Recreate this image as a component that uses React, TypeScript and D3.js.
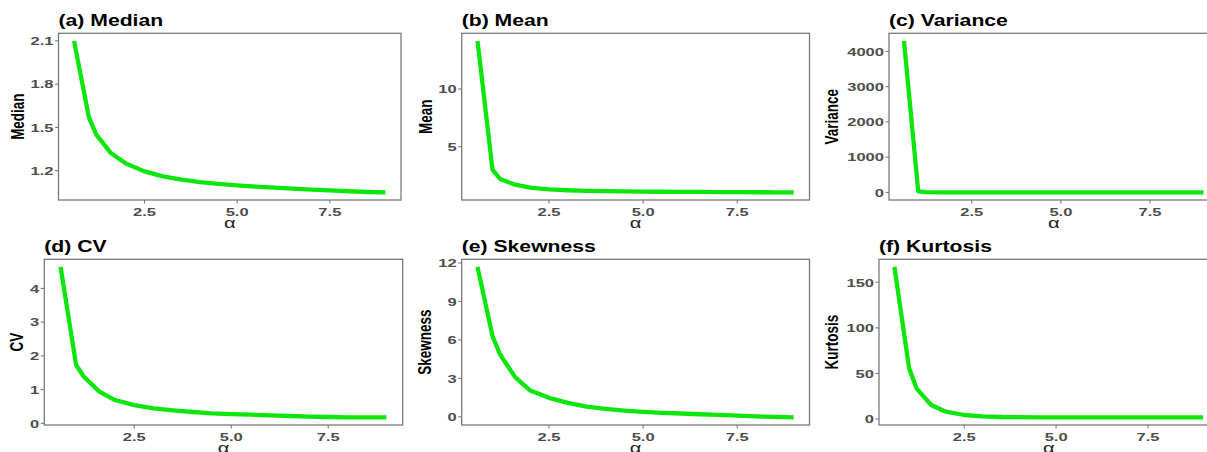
import React from "react";
import * as d3 from "d3";

// ---------- data ----------
const alpha = [0.6, 1.0, 1.2, 1.6, 2.0, 2.5, 3.0, 3.5, 4.0, 4.5, 5.0, 5.5, 6.0, 6.5, 7.0, 7.5, 8.0, 8.5, 9.0];
const medianVals = [2.10, 1.57, 1.45, 1.32, 1.25, 1.195, 1.16, 1.138, 1.12, 1.108, 1.098, 1.089, 1.082, 1.075, 1.068, 1.063, 1.057, 1.052, 1.049];
const meanVals = [14.17, 2.98, 2.2, 1.7, 1.45, 1.3, 1.22, 1.17, 1.14, 1.12, 1.1, 1.09, 1.08, 1.07, 1.06, 1.05, 1.045, 1.04, 1.03];
const varianceVals = [4300, 29, 8.8, 2.3, 0.97, 0.46, 0.27, 0.19, 0.14, 0.11, 0.095, 0.083, 0.072, 0.063, 0.054, 0.047, 0.041, 0.036, 0.031];
const cvVals = [4.64, 1.73, 1.38, 0.94, 0.69, 0.54, 0.44, 0.385, 0.335, 0.296, 0.275, 0.255, 0.236, 0.216, 0.196, 0.187, 0.178, 0.175, 0.173];
const skewVals = [11.7, 6.28, 4.86, 3.1, 2.05, 1.48, 1.09, 0.8, 0.62, 0.49, 0.39, 0.31, 0.26, 0.2, 0.15, 0.09, 0.03, 0.0, -0.05];
const kurtVals = [167, 55.6, 33.7, 15.4, 8, 4.4, 2.9, 2.2, 2.0, 1.9, 1.85, 1.8, 1.78, 1.76, 1.74, 1.72, 1.71, 1.7, 1.7];

const xTicks = [2.5, 5.0, 7.5];
const medianTicks = [1.2, 1.5, 1.8, 2.1];
const meanTicks = [5, 10];
const varianceTicks = [0, 1000, 2000, 3000, 4000];
const cvTicks = [0, 1, 2, 3, 4];
const skewTicks = [0, 3, 6, 9, 12];
const kurtTicks = [0, 50, 100, 150];

const titles = ["(a) Median", "(b) Mean", "(c) Variance", "(d) CV", "(e) Skewness", "(f) Kurtosis"];
const yLabels = ["Median", "Mean", "Variance", "CV", "Skewness", "Kurtosis"];
const xLabel = "\u03b1";

// ---------- layout ----------
const W = 1207;
const H = 452;
const FONT = "'Liberation Sans', Arial, Helvetica, sans-serif";
const LINE = "#0de60d";
const BORDER = "#7a7a7a";
const TICKTXT = "#4d4d4d";

const rows = [
  { top: 33.3, bottom: 200 },
  { top: 259.3, bottom: 425 },
];
const cols = [
  [{ left: 58.5, right: 401, ylabX: 24 }, { left: 461.7, right: 809.5, ylabX: 431.5 }, { left: 889, right: 1218.5, ylabX: 838 }],
  [{ left: 44.3, right: 402.7, ylabX: 23.3 }, { left: 461.7, right: 809.5, ylabX: 430.5 }, { left: 879, right: 1218.5, ylabX: 838 }],
];

const series = [medianVals, meanVals, varianceVals, cvVals, skewVals, kurtVals];
const yTickSets = [medianTicks, meanTicks, varianceTicks, cvTicks, skewTicks, kurtTicks];
const yFormats = [d3.format(".1f"), d3.format("d"), d3.format("d"), d3.format("d"), d3.format("d"), d3.format("d")];

function expand(ext: [number, number]): [number, number] {
  const r = ext[1] - ext[0];
  return [ext[0] - 0.05 * r, ext[1] + 0.05 * r];
}

function SText(props: {
  x: number; y: number; sx: number; anchor?: string; size: number; weight?: string | number;
  fill: string; rotate?: boolean; children: React.ReactNode;
}) {
  const { x, y, sx, anchor = "start", size, weight = "normal", fill, rotate, children } = props;
  return (
    <g transform={`translate(${x},${y}) scale(${sx},1)${rotate ? " rotate(-90)" : ""}`}>
      <text x={0} y={0} textAnchor={anchor} fontSize={size} fontWeight={weight} fill={fill} fontFamily={FONT}>
        {children}
      </text>
    </g>
  );
}

function Panel({ idx }: { idx: number }) {
  const r = Math.floor(idx / 3);
  const c = idx % 3;
  const { top, bottom } = rows[r];
  const { left, right, ylabX } = cols[r][c];
  const vals = series[idx];
  const x = d3.scaleLinear().domain(expand(d3.extent(alpha) as [number, number])).range([left, right]);
  const y = d3.scaleLinear().domain(expand(d3.extent(vals) as [number, number])).range([bottom, top]);
  const pts = alpha.map((a, i) => [a, vals[i]] as [number, number]);
  const line = d3.line<[number, number]>().x((d) => x(d[0])).y((d) => y(d[1]));
  const fmtX = d3.format(".1f");
  const clipId = `clip${idx}`;
  return (
    <g>
      <defs>
        <clipPath id={clipId}>
          <rect x={left} y={top} width={right - left} height={bottom - top} />
        </clipPath>
      </defs>
      <path d={line(pts) || ""} fill="none" stroke={LINE} strokeWidth={4.3} strokeLinejoin="round" clipPath={`url(#${clipId})`} />
      <rect x={left} y={top} width={right - left} height={bottom - top} fill="none" stroke={BORDER} strokeWidth={1.3} />
      {yTickSets[idx].map((t) => (
        <g key={"y" + t}>
          <line x1={left - 3.5} x2={left} y1={y(t)} y2={y(t)} stroke={BORDER} strokeWidth={1.1} />
          <SText x={left - 5} y={y(t) + 4.2} sx={1.4} anchor="end" size={11.8} weight="bold" fill={TICKTXT}>
            {yFormats[idx](t)}
          </SText>
        </g>
      ))}
      {xTicks.map((t) => (
        <g key={"x" + t}>
          <line x1={x(t)} x2={x(t)} y1={bottom} y2={bottom + 3.5} stroke={BORDER} strokeWidth={1.1} />
          <SText x={x(t)} y={bottom + 15.8} sx={1.4} anchor="middle" size={11.8} weight="bold" fill={TICKTXT}>
            {fmtX(t)}
          </SText>
        </g>
      ))}
      <SText x={(left + right) / 2} y={bottom + 28.3} sx={1.3} anchor="middle" size={15.5} fill="#222">
        {xLabel}
      </SText>
      <SText x={ylabX} y={(top + bottom) / 2} sx={1.38} anchor="middle" size={13.5} weight="bold" fill="#000" rotate>
        {yLabels[idx]}
      </SText>
      <SText x={left} y={top - 7} sx={1.3} anchor="start" size={16.3} weight="bold" fill="#000">
        {titles[idx]}
      </SText>
    </g>
  );
}

export default function App() {
  return (
    <svg
      width={W}
      height={H}
      viewBox={`0 0 ${W} ${H}`}
      style={{ position: "absolute", left: 0, top: 0, background: "#fff" }}
    >
      <rect x={0} y={0} width={W} height={H} fill="#fff" />
      {[0, 1, 2, 3, 4, 5].map((i) => (
        <Panel key={i} idx={i} />
      ))}
    </svg>
  );
}
